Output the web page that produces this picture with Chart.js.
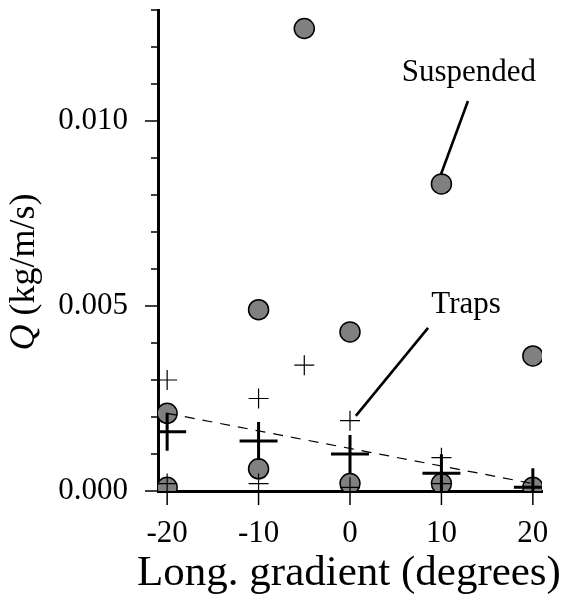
<!DOCTYPE html>
<html>
<head>
<meta charset="utf-8">
<script src="https://cdn.jsdelivr.net/npm/chart.js@4"></script>
<style>body{margin:0;background:#fff}</style>
</head>
<body>
<canvas id="graphQ" width="563" height="602"></canvas>
<script>
// Données
const suspX = [-20, -20, -10, -10, -5, 0, 0, 10, 10, 20, 20];
const suspQ = [0.0021, 0.0001, 0.0049, 0.0006, 0.0125, 0.0043, 0.0002, 0.0083, 0.0002, 0.00365, 0.0001];
const trapX = [-20, -20, -10, -10, -5, 0, 0, 10, 10];
const trapQ = [0.0030, 0.0002, 0.0025, 0.0002, 0.0034, 0.0019, 0.0001, 0.0009, 0.0002];
const meanX = [-20, -10, 0, 10, 20];
const meanQ = [0.0016, 0.00135, 0.0010, 0.00048, 0.0001];
const fitX = [-20, 20];
const fitQ = [0.0021, 0.0002];

// annotations (coordonnées en unités du graphique)
const notes = [
    { text: 'Suspended', at: [13.0, 0.0113], from: [12.9, 0.01054], to: [9.92, 0.00854] },
    { text: 'Traps', at: [12.7, 0.00503], from: [8.54, 0.00441], to: [0.64, 0.00203] }
];

const serif = '"Liberation Serif", "Times New Roman", serif';
const pts = (xs, ys) => xs.map((x, i) => ({ x: x, y: ys[i] }));

const decor = {
    id: 'decor',
    afterDraw(chart) {
        const ctx = chart.ctx;
        const xs = chart.scales.x, ys = chart.scales.y;
        const area = chart.chartArea;
        ctx.save();
        ctx.strokeStyle = '#000';
        ctx.fillStyle = '#000';

        // graduations
        ctx.lineWidth = 1.5;
        ys.ticks.forEach(t => {
            const py = ys.getPixelForValue(t.value);
            const len = t.label ? 13 : 7;
            ctx.beginPath();
            ctx.moveTo(area.left - len, py);
            ctx.lineTo(area.left, py);
            ctx.stroke();
        });
        xs.ticks.forEach(t => {
            const px = xs.getPixelForValue(t.value);
            ctx.beginPath();
            ctx.moveTo(px, area.bottom);
            ctx.lineTo(px, area.bottom + 14);
            ctx.stroke();
        });

        // traits vers les étiquettes
        ctx.lineWidth = 2.6;
        notes.forEach(n => {
            ctx.beginPath();
            ctx.moveTo(xs.getPixelForValue(n.from[0]), ys.getPixelForValue(n.from[1]));
            ctx.lineTo(xs.getPixelForValue(n.to[0]), ys.getPixelForValue(n.to[1]));
            ctx.stroke();
        });
        ctx.font = '31px ' + serif;
        ctx.textAlign = 'center';
        ctx.textBaseline = 'middle';
        notes.forEach(n => {
            ctx.fillText(n.text, xs.getPixelForValue(n.at[0]), ys.getPixelForValue(n.at[1]));
        });

        // titre axe x
        ctx.font = '43px ' + serif;
        ctx.textBaseline = 'alphabetic';
        ctx.fillText('Long. gradient (degrees)', 349, 585);

        // titre axe y : Q en italique
        ctx.translate(34, 272);
        ctx.rotate(-Math.PI / 2);
        const fQ = 'italic 36px ' + serif, fR = '36px ' + serif;
        ctx.font = fQ;
        const wQ = ctx.measureText('Q').width;
        ctx.font = fR;
        const wR = ctx.measureText(' (kg/m/s)').width;
        const x0 = -(wQ + wR) / 2;
        ctx.textAlign = 'left';
        ctx.font = fQ;
        ctx.fillText('Q', x0, 0);
        ctx.font = fR;
        ctx.fillText(' (kg/m/s)', x0 + wQ, 0);
        ctx.restore();
    }
};

const ctx = document.getElementById('graphQ').getContext('2d');
new Chart(ctx, {
    type: 'scatter',
    data: {
        datasets: [{
            label: 'Suspended',
            data: pts(suspX, suspQ),
            pointStyle: 'circle',
            pointRadius: 10,
            backgroundColor: '#808080',
            borderColor: '#000',
            borderWidth: 1.5,
            clip: 0,
            order: 4
        }, {
            label: 'Traps',
            data: pts(trapX, trapQ),
            pointStyle: 'cross',
            pointRadius: 10,
            borderColor: '#000',
            borderWidth: 1.2,
            clip: 0,
            order: 2
        }, {
            label: 'Traps mean',
            data: pts(meanX, meanQ),
            pointStyle: 'cross',
            pointRadius: 19,
            borderColor: '#000',
            borderWidth: 3,
            clip: 0,
            order: 1
        }, {
            label: 'Fit',
            type: 'line',
            data: pts(fitX, fitQ),
            borderColor: '#000',
            borderWidth: 1.2,
            borderDash: [10, 8],
            pointRadius: 0,
            fill: false,
            clip: 0,
            order: 3
        }]
    },
    options: {
        responsive: false,
        animation: false,
        layout: { autoPadding: false, padding: { top: 10, right: 21, left: 0, bottom: 0 } },
        plugins: { legend: { display: false }, tooltip: { enabled: false } },
        scales: {
            x: {
                type: 'linear',
                min: -21,
                max: 21,
                afterFit: s => { s.height = 111; s.paddingLeft = 0; s.paddingRight = 0; },
                border: { display: true, color: '#000', width: 3 },
                grid: { display: false, drawTicks: false },
                ticks: {
                    stepSize: 10,
                    includeBounds: false,
                    autoSkip: false,
                    maxRotation: 0,
                    padding: 24,
                    color: '#000',
                    font: { family: serif, size: 31 }
                }
            },
            y: {
                type: 'linear',
                min: 0,
                max: 0.013,
                afterFit: s => { s.width = 158; s.paddingTop = 0; s.paddingBottom = 0; },
                border: { display: true, color: '#000', width: 3 },
                grid: { display: false, drawTicks: false },
                ticks: {
                    stepSize: 0.001,
                    includeBounds: false,
                    autoSkip: false,
                    padding: 30,
                    color: '#000',
                    font: { family: serif, size: 31 },
                    callback: v => Math.abs(v / 0.005 - Math.round(v / 0.005)) < 1e-6 ? v.toFixed(3) : ''
                }
            }
        }
    },
    plugins: [decor]
});
</script>
</body>
</html>
